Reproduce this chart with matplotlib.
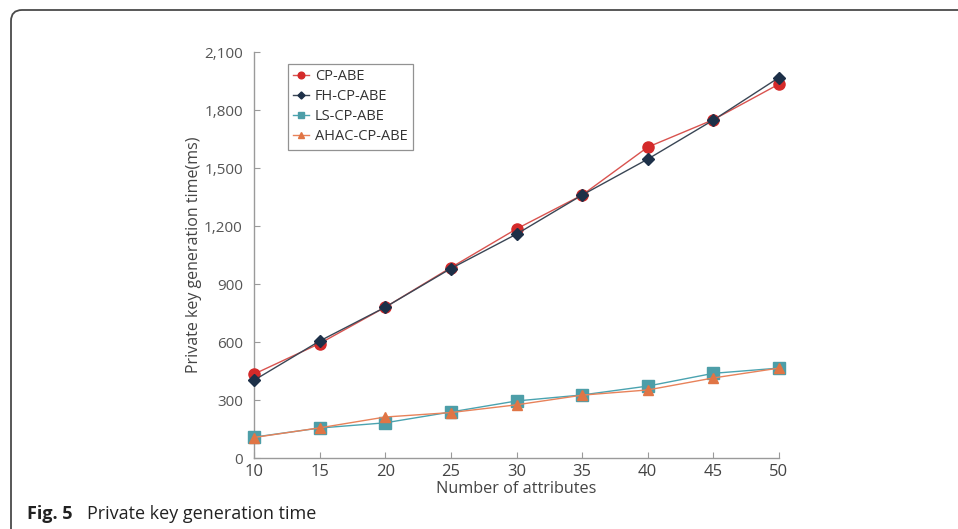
import matplotlib
matplotlib.use("Agg")
import matplotlib.pyplot as plt
from matplotlib.patches import FancyBboxPatch
from matplotlib.ticker import FuncFormatter

attributes = [10, 15, 20, 25, 30, 35, 40, 45, 50]
cp_abe = [434, 592, 780, 985, 1185, 1360, 1608, 1750, 1934]
fh_cp_abe = [402, 605, 780, 980, 1158, 1360, 1546, 1748, 1968]
ls_cp_abe = [108, 155, 182, 238, 295, 326, 372, 438, 465]
ahac_cp_abe = [106, 156, 212, 235, 275, 325, 352, 414, 465]

series_names = ["CP-ABE", "FH-CP-ABE", "LS-CP-ABE", "AHAC-CP-ABE"]
y_ticks = [0, 300, 600, 900, 1200, 1500, 1800, 2100]
x_ticks = [10, 15, 20, 25, 30, 35, 40, 45, 50]

plt.rcParams['font.family'] = ['Open Sans', 'DejaVu Sans']

W, H = 958, 529
fig = plt.figure(figsize=(W / 100, H / 100), dpi=100)

# frame around figure (top + left with rounded corner)
frame = FancyBboxPatch((11, -200), 1200, 200 + (H - 10),
                       boxstyle="round,pad=0,rounding_size=11",
                       transform=None, fill=False, edgecolor="#4a4a4a",
                       linewidth=1.3)
fig.add_artist(frame)

ax = fig.add_axes([254 / W, 1 - 458 / H, (779 - 254) / W, (458 - 52) / H])

ax.plot(attributes, cp_abe, color="#d9534f", lw=1.0, marker="o", ms=8,
        mfc="#d42a2a", mec="#d42a2a", label=series_names[0], zorder=3,
        clip_on=False)
ax.plot(attributes, fh_cp_abe, color="#3a4655", lw=1.0, marker="D", ms=6,
        mfc="#1d3048", mec="#1d3048", label=series_names[1], zorder=4,
        clip_on=False)
ax.plot(attributes, ls_cp_abe, color="#4aa3b0", lw=1.0, marker="s", ms=8,
        mfc="#4d9ea8", mec="#4d9ea8", label=series_names[2], zorder=3,
        clip_on=False)
ax.plot(attributes, ahac_cp_abe, color="#e8825a", lw=1.0, marker="^", ms=7,
        mfc="#e07545", mec="#e07545", label=series_names[3], zorder=4,
        clip_on=False)

ax.set_xlim(10, 50)
ax.set_ylim(0, 2100)
ax.set_xticks(x_ticks)
ax.set_yticks(y_ticks)
ax.yaxis.set_major_formatter(FuncFormatter(lambda v, p: f"{int(v):,}"))

for s in ["top", "right"]:
    ax.spines[s].set_visible(False)
for s in ["left", "bottom"]:
    ax.spines[s].set_color("#9a9a9a")
    ax.spines[s].set_linewidth(1.0)

ax.tick_params(axis="x", direction="in", length=4, color="#9a9a9a",
               labelsize=12, labelcolor="#444444", pad=4)
ax.tick_params(axis="y", direction="in", length=4, color="#9a9a9a",
               labelsize=11, labelcolor="#555555", pad=8)

ax.set_xlabel("Number of attributes", fontsize=11.7, color="#444444", labelpad=1)
ax.set_ylabel("Private key generation time(ms)", fontsize=11.5, color="#444444")
ax.yaxis.set_label_coords(-0.099, 0.5)

leg = ax.legend(loc="upper left", bbox_to_anchor=(34 / 525, 1 - 12 / 406),
                frameon=True, fancybox=False, fontsize=10.5, handlelength=1.1,
                handletextpad=0.4, borderpad=0.35, labelspacing=0.35,
                markerscale=0.6, borderaxespad=0)
leg.get_frame().set_edgecolor("#777777")
leg.get_frame().set_linewidth(0.9)
for t in leg.get_texts():
    t.set_color("#333333")

fig.text(27 / W, 1 - 514 / H, "Fig. 5", fontsize=13, fontweight="bold",
         color="#222222", va="center", ha="left")
fig.text(87 / W, 1 - 514 / H, "Private key generation time", fontsize=13,
         color="#222222", va="center", ha="left")

fig.savefig("out.png", dpi=100)
